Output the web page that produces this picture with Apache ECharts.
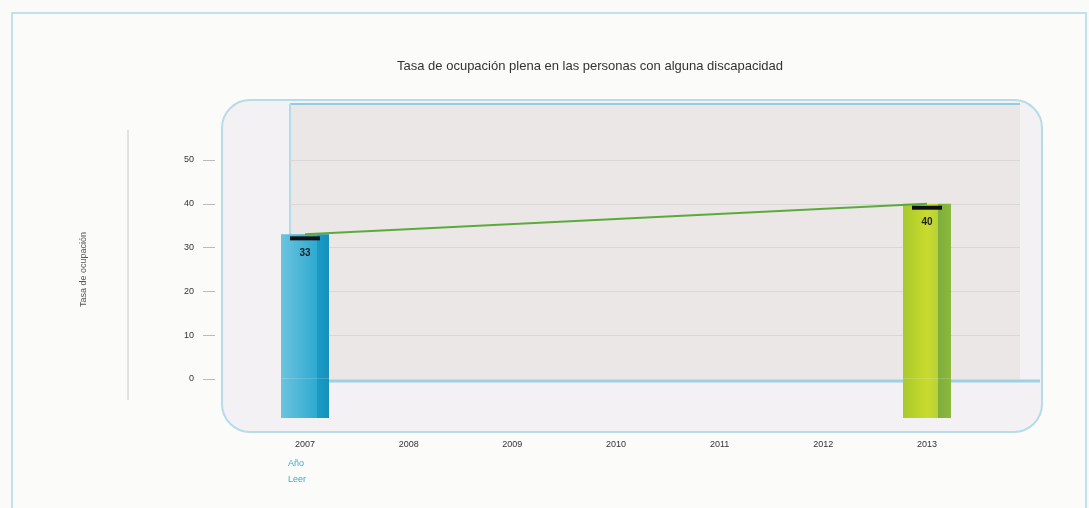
<!DOCTYPE html>
<html><head><meta charset="utf-8">
<script src="https://cdn.jsdelivr.net/npm/echarts@6/dist/echarts.min.js"></script>
<style>html,body{margin:0;padding:0;background:#fafaf9;}#c{width:1089px;height:508px;}</style>
</head><body><div id="c"></div>
<script>
const years = ['2007','2008','2009','2010','2011','2012','2013'];
const barValues = [33, null, null, null, null, null, 40];
const lineValues = [33, null, null, null, null, null, 40];
const barLabels = ['33','','','','','','40'];
const floorValues = [-9, null, null, null, null, null, -9];
const yTicks = [0, 10, 20, 30, 40, 50];
const titleText = 'Tasa de ocupación plena en las personas con alguna discapacidad';
const yName = 'Tasa de ocupación';
const legendTexts = ['Año', 'Leer'];

const chart = echarts.init(document.getElementById('c'));
const F = 'Liberation Sans, Arial, sans-serif';
const blueGrad = new echarts.graphic.LinearGradient(0,0,1,0,[
  {offset:0,color:'#6cc3de'},{offset:0.75,color:'#2eaad1'},{offset:0.76,color:'#1a9bc4'},{offset:1,color:'#1591ba'}]);
const greenGrad = new echarts.graphic.LinearGradient(0,0,1,0,[
  {offset:0,color:'#a9c92c'},{offset:0.5,color:'#c8db2e'},{offset:0.72,color:'#b9d23a'},{offset:0.74,color:'#7fae3c'},{offset:1,color:'#8cb83c'}]);

chart.setOption({
  backgroundColor:'#fafaf9',
  animation:false,
  title:{text:titleText,left:585,top:55,textAlign:'center',
    textStyle:{fontFamily:F,fontSize:13,fontWeight:'normal',color:'#333'}},
  graphic:[
    {type:'rect',z:-20,shape:{x:12,y:13,width:1074,height:498},style:{fill:'#fbfbfa',stroke:'#c3e1ea',lineWidth:2}},
    {type:'rect',z:-19,shape:{x:222,y:100,width:820,height:332,r:28},style:{fill:'#f3f1f4',stroke:'#b7dce8',lineWidth:2}},
    {type:'rect',z:-18,shape:{x:290,y:104,width:730,height:276},style:{fill:'#ebe7e6'}},
    {type:'line',z:-17,shape:{x1:290,y1:104,x2:1020,y2:104},style:{stroke:'#8fcde1',lineWidth:2}},
    {type:'line',z:-17,shape:{x1:290,y1:104,x2:290,y2:380},style:{stroke:'#b5dbe7',lineWidth:2}},
    {type:'line',z:-17,shape:{x1:290,y1:381,x2:1040,y2:381},style:{stroke:'#9dd2e4',lineWidth:3}},
    {type:'line',z:-17,shape:{x1:128,y1:130,x2:128,y2:400},style:{stroke:'#c8c8c8',lineWidth:1}},
    {type:'text',z:5,left:288,top:459,style:{text:legendTexts[0],fill:'#3aaed0',font:'9px '+F}},
    {type:'text',z:5,left:288,top:475,style:{text:legendTexts[1],fill:'#3aaed0',font:'9px '+F}}
  ],
  grid:[
    {left:290,right:69,top:160,bottom:129},
    {left:305,right:162,top:160,bottom:90}
  ],
  xAxis:[
    {type:'category',gridIndex:0,show:false,data:years},
    {type:'category',gridIndex:1,data:years,boundaryGap:false,
      axisLine:{show:false},axisTick:{show:false},
      axisLabel:{margin:22,fontFamily:F,fontSize:9,color:'#333'}}
  ],
  yAxis:[
    {type:'value',gridIndex:0,min:yTicks[0],max:yTicks[yTicks.length-1],interval:10,offset:75,
      name:yName,nameLocation:'middle',nameRotate:90,nameGap:127,
      nameTextStyle:{fontFamily:F,fontSize:9,color:'#555'},
      axisLine:{show:false},axisTick:{show:true,length:12,lineStyle:{color:'#bbb'}},
      axisLabel:{margin:21,fontFamily:F,fontSize:9,color:'#333'},
      splitLine:{show:true,lineStyle:{color:'#d9d6d6'}}},
    {type:'value',gridIndex:1,min:-9,max:50,show:false}
  ],
  series:[
    {type:'bar',zlevel:1,xAxisIndex:1,yAxisIndex:1,data:floorValues.map((v,i)=>v==null?null:{value:v,
        itemStyle:{color:i===0?blueGrad:greenGrad}}),
      barWidth:48,barGap:'-100%',silent:true},
    {type:'bar',zlevel:1,xAxisIndex:1,yAxisIndex:1,data:barValues.map((v,i)=>v==null?null:{value:v,
        itemStyle:{color:i===0?blueGrad:greenGrad},
        label:{show:true,formatter:barLabels[i]}}),
      barWidth:48,barGap:'-100%',
      label:{position:'insideTop',distance:14,fontFamily:F,fontSize:10,fontWeight:'bold',color:'#222'}},
    {type:'pictorialBar',zlevel:1,xAxisIndex:1,yAxisIndex:1,data:barValues,symbol:'rect',
      symbolSize:[30,4],symbolPosition:'end',symbolOffset:[0,2],z:4,
      itemStyle:{color:'#111'}},
    {type:'line',zlevel:1,xAxisIndex:1,yAxisIndex:1,data:lineValues,connectNulls:true,symbol:'none',z:3,
      lineStyle:{color:'#5aab3c',width:2}}
  ]
});
</script></body></html>
